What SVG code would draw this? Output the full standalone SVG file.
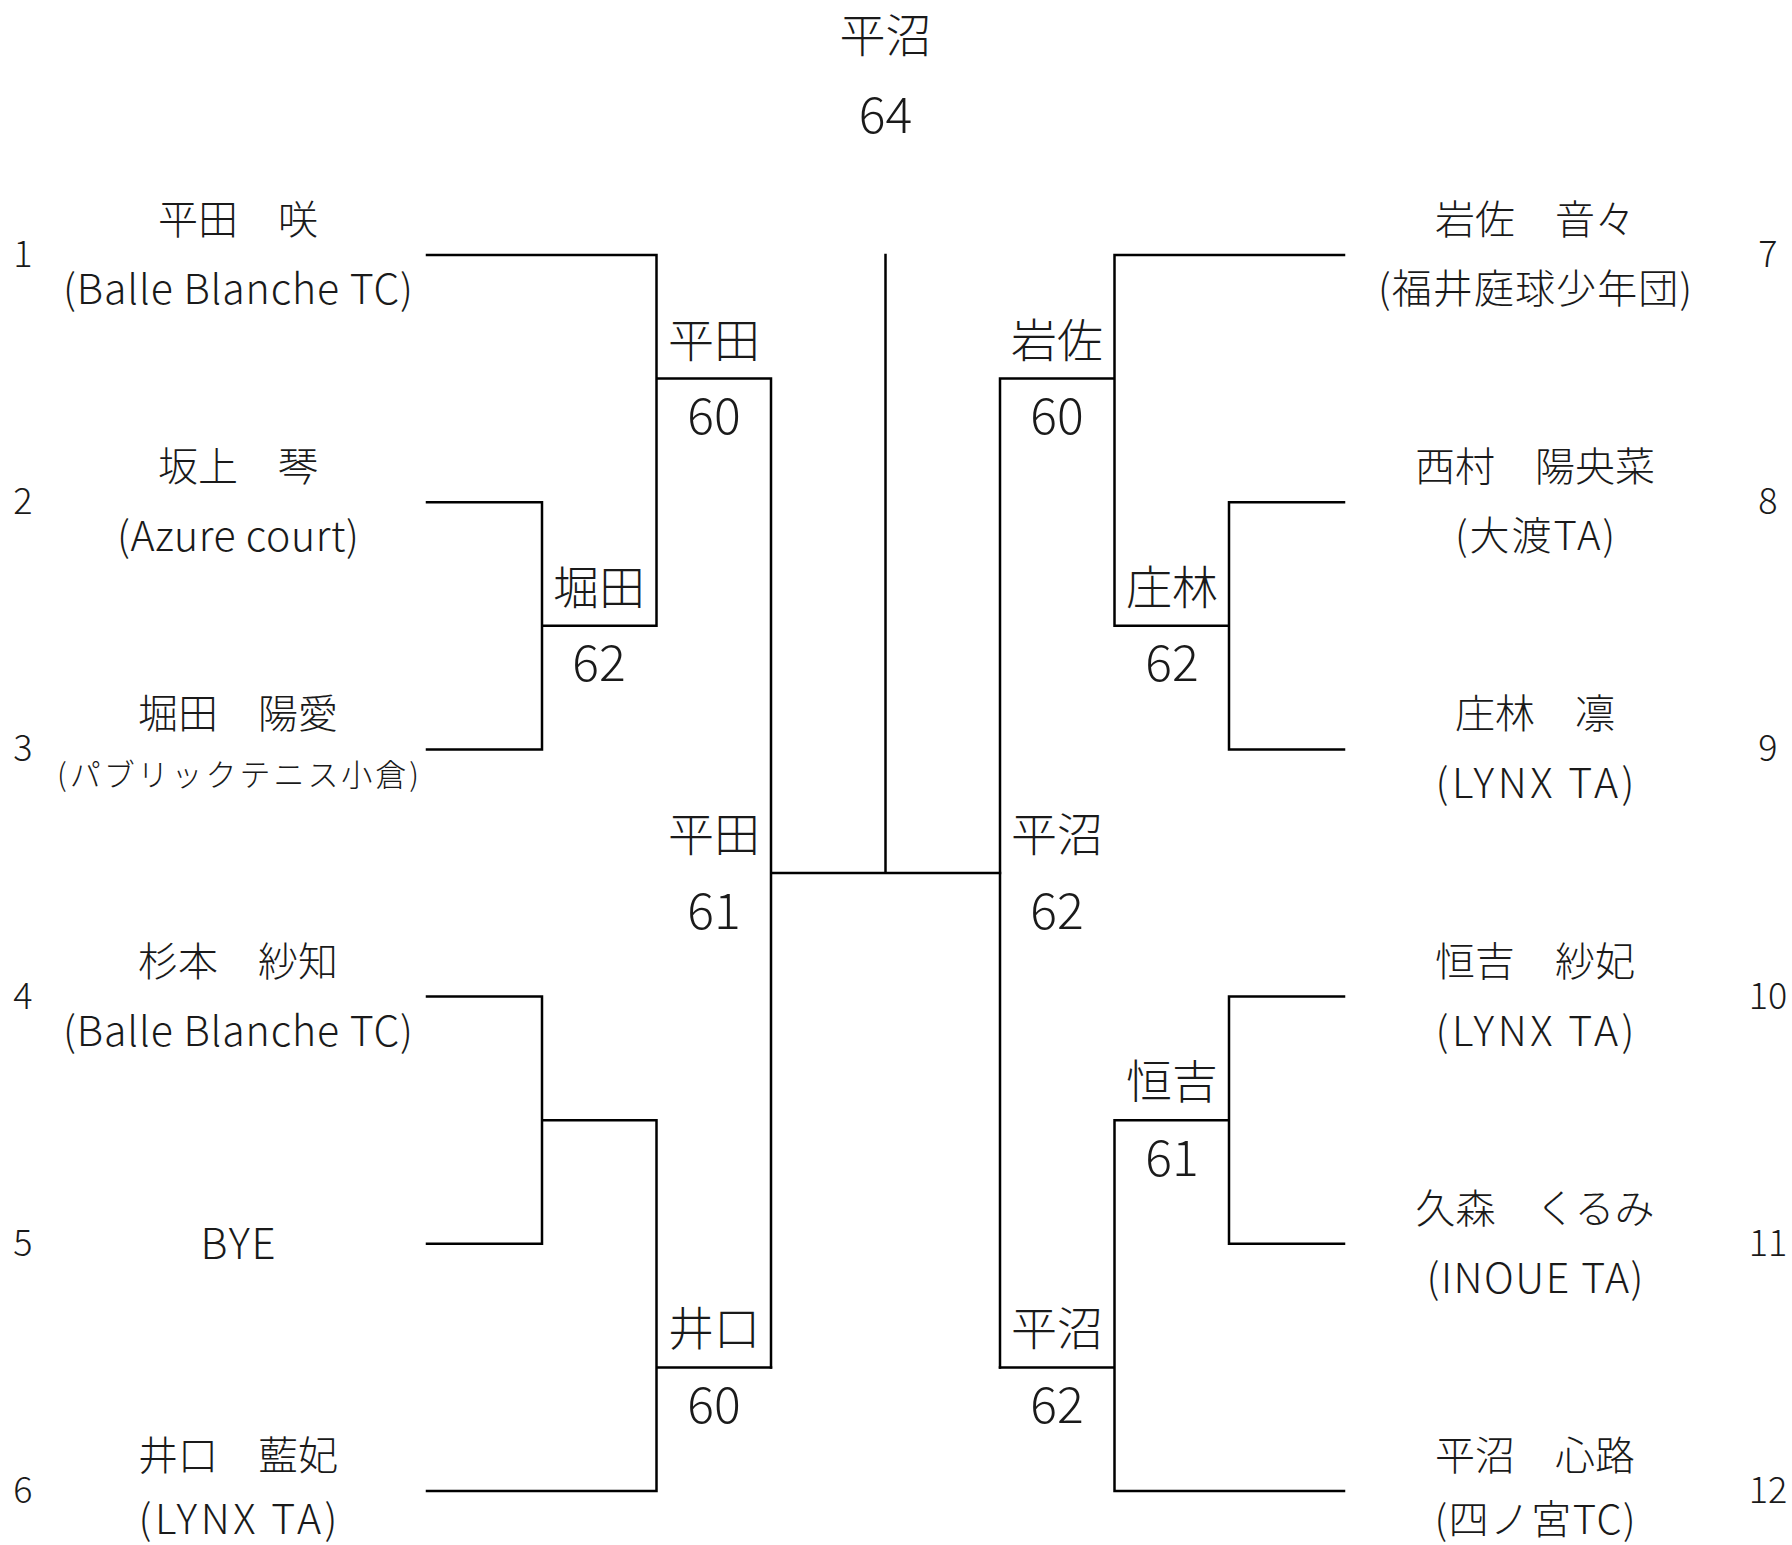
<svg xmlns="http://www.w3.org/2000/svg" width="1792" height="1545" viewBox="0 0 1792 1545">
<style>
text{font-family:"Noto Sans CJK JP","Noto Sans",sans-serif;font-weight:300;fill:#1a1a1a;text-anchor:middle;dominant-baseline:central}
.name{font-size:40px}
.club{font-size:41px}
.clubj{font-size:40px}
.seed{font-size:36px}
.win{font-size:46px}
.score{font-size:50px}
.ln{fill:none;stroke:#000;stroke-width:2.5;stroke-linejoin:miter;stroke-linecap:square}
</style>
<rect width="1792" height="1545" fill="#fff"/>
<g id="connectors" class="ln">
<path class="ln" d="M427,255 H656.5 V625.8 M542,625.8 H656.5 M427,502.2 H542 V749.4 H427 M656.5,378.6 H771 V1367.4 M771,873 H1000 M885.5,255 V873"/>
<path class="ln" d="M427,996.6 H542 V1243.8 H427 M542,1120.2 H656.5 V1491 H427 M656.5,1367.4 H771"/>
<path class="ln" d="M1344,255 H1114.5 V625.8 M1229,625.8 H1114.5 M1344,502.2 H1229 V749.4 H1344 M1114.5,378.6 H1000 V1367.4"/>
<path class="ln" d="M1344,996.6 H1229 V1243.8 H1344 M1229,1120.2 H1114.5 V1491 H1344 M1114.5,1367.4 H1000"/>
</g>
<g id="final"><text class="win" x="885.5" y="32">平沼</text><text class="score" x="885.5" y="111">64</text></g>
<g id="p1"><text class="seed" x="23" y="251">1</text><text class="name" x="238" y="217">平田　咲</text><text class="club" x="238" y="286" textLength="350" lengthAdjust="spacing">(Balle Blanche TC)</text></g>
<g id="p2"><text class="seed" x="23" y="498">2</text><text class="name" x="238" y="464">坂上　琴</text><text class="club" x="238" y="533" textLength="242" lengthAdjust="spacing">(Azure court)</text></g>
<g id="p3"><text class="seed" x="23" y="745">3</text><text class="name" x="238" y="711">堀田　陽愛</text><text class="clubj" x="238" y="772" style="font-size:31px" textLength="362" lengthAdjust="spacing">(パブリックテニス小倉)</text></g>
<g id="p4"><text class="seed" x="23" y="993">4</text><text class="name" x="238" y="959">杉本　紗知</text><text class="club" x="238" y="1028" textLength="350" lengthAdjust="spacing">(Balle Blanche TC)</text></g>
<g id="p5"><text class="seed" x="23" y="1240">5</text><text class="name" x="238" y="1240" style="font-size:42px" textLength="75" lengthAdjust="spacing">BYE</text></g>
<g id="p6"><text class="seed" x="23" y="1487">6</text><text class="name" x="238" y="1453">井口　藍妃</text><text class="club" x="238" y="1516" textLength="199" lengthAdjust="spacing">(LYNX TA)</text></g>
<g id="p7"><text class="seed" x="1768" y="251">7</text><text class="name" x="1535" y="217">岩佐　音々</text><text class="clubj" x="1535" y="286" textLength="314" lengthAdjust="spacing">(福井庭球少年団)</text></g>
<g id="p8"><text class="seed" x="1768" y="498">8</text><text class="name" x="1535" y="464">西村　陽央菜</text><text class="clubj" x="1535" y="533" textLength="160" lengthAdjust="spacing">(大渡TA)</text></g>
<g id="p9"><text class="seed" x="1768" y="745">9</text><text class="name" x="1535" y="711">庄林　凛</text><text class="club" x="1535" y="780" textLength="199" lengthAdjust="spacing">(LYNX TA)</text></g>
<g id="p10"><text class="seed" x="1768" y="993">10</text><text class="name" x="1535" y="959">恒吉　紗妃</text><text class="club" x="1535" y="1028" textLength="199" lengthAdjust="spacing">(LYNX TA)</text></g>
<g id="p11"><text class="seed" x="1768" y="1240">11</text><text class="name" x="1535" y="1206">久森　くるみ</text><text class="club" x="1535" y="1275" textLength="217" lengthAdjust="spacing">(INOUE TA)</text></g>
<g id="p12"><text class="seed" x="1768" y="1487">12</text><text class="name" x="1535" y="1453">平沼　心路</text><text class="clubj" x="1535" y="1517" textLength="201" lengthAdjust="spacing">(四ノ宮TC)</text></g>
<g id="w-l-r1a"><text class="win" x="599" y="584">堀田</text><text class="score" x="599" y="659">62</text></g>
<g id="w-l-r2a"><text class="win" x="714" y="337">平田</text><text class="score" x="714" y="412">60</text></g>
<g id="w-l-sf"><text class="win" x="714" y="831">平田</text><text class="score" x="714" y="907">61</text></g>
<g id="w-l-r2b"><text class="win" x="714" y="1325">井口</text><text class="score" x="714" y="1401">60</text></g>
<g id="w-r-r2a"><text class="win" x="1057" y="337">岩佐</text><text class="score" x="1057" y="412">60</text></g>
<g id="w-r-r1a"><text class="win" x="1172" y="584">庄林</text><text class="score" x="1172" y="659">62</text></g>
<g id="w-r-sf"><text class="win" x="1057" y="831">平沼</text><text class="score" x="1057" y="907">62</text></g>
<g id="w-r-r1b"><text class="win" x="1172" y="1078">恒吉</text><text class="score" x="1172" y="1154">61</text></g>
<g id="w-r-r2b"><text class="win" x="1057" y="1325">平沼</text><text class="score" x="1057" y="1401">62</text></g>
</svg>
